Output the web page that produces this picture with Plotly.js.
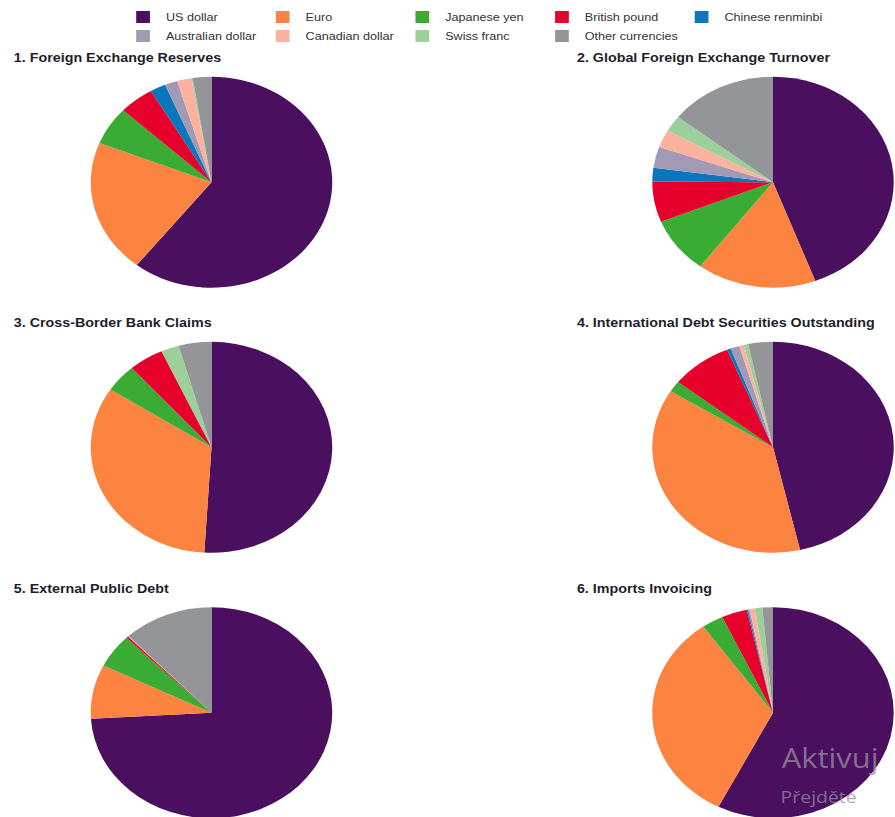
<!DOCTYPE html>
<html><head><meta charset="utf-8">
<script src="https://cdn.plot.ly/plotly-3.0.1.min.js"></script>
<style>
html,body{margin:0;padding:0;overflow:hidden;background:#fff;width:895px;height:817px}
#wrap{width:782px;height:840px;transform:scaleX(1.1445);transform-origin:0 0}
</style>
</head><body><div id="wrap"></div>
<script>
const currencies = ["US dollar","Euro","Japanese yen","British pound","Chinese renminbi","Australian dollar","Canadian dollar","Swiss franc","Other currencies"];
const colors = ["#4a0f5f","#fd8341","#3aab33","#e7002c","#0a77bd","#a29ab4","#fdb2a0","#9ccf99","#939598"];
const titles = ["1. Foreign Exchange Reserves","2. Global Foreign Exchange Turnover","3. Cross-Border Bank Claims","4. International Debt Securities Outstanding","5. External Public Debt","6. Imports Invoicing"];

const fxReserves     = [60.8, 20.5, 5.9, 4.7, 2.1, 1.7, 1.9, 0.2, 2.5];
const fxTurnover     = [44.3, 16.0, 8.6, 6.2, 2.1, 3.2, 2.7, 2.5, 14.4];
const bankClaims     = [51.0, 33.3, 4.3, 4.7, 0.0, 0.0, 0.0, 2.4, 4.4];
const debtSecurities = [46.4, 37.5, 1.7, 8.2, 0.5, 1.2, 0.6, 0.6, 3.3];
const publicDebt     = [74.4, 8.3, 5.2, 0.3, 0.0, 0.0, 0.1, 0.0, 12.1];
const importsInvoicing = [57.4, 32.7, 2.9, 3.4, 0.2, 0.2, 0.7, 1.0, 1.4];

const series = [fxReserves, fxTurnover, bankClaims, debtSecurities, publicDebt, importsInvoicing];

const W = 782, H = 840, R = 105.5;
const ML = 60;               // left margin, so the plot area width makes the legend wrap after 5 entries
const GW = W - ML;
const px = v => (v - ML) / GW;   // inner pixel -> paper x
const py = v => 1 - v / H;       // pixel from top -> paper y
const centersX = [184.8, 675.4];
const centersY = [182.2, 447.3, 712.7];

const traces = series.map((vals, i) => {
  const cx = centersX[i % 2], cy = centersY[Math.floor(i / 2)];
  return {
    type: 'pie',
    labels: currencies,
    values: vals,
    sort: false,
    direction: 'clockwise',
    rotation: 0,
    textinfo: 'none',
    hoverinfo: 'label+value',
    marker: {colors: colors, line: {width: 0}},
    domain: {x: [px(cx - R), px(cx + R)], y: [(H - cy - R) / H, (H - cy + R) / H]},
    showlegend: i === 0
  };
});

const titleX = [10, 502];
const titleY = [58, 323, 589];
const annotations = titles.map((t, i) => ({
  text: '<b>' + t + '</b>',
  xref: 'paper', yref: 'paper',
  x: px(titleX[i % 2]), y: py(titleY[Math.floor(i / 2)]),
  xanchor: 'left', yanchor: 'middle', showarrow: false,
  font: {family: 'Liberation Sans, Arial, sans-serif', size: 12.5, color: '#1f1d2b'}
}));
annotations.push({
  text: 'Aktivuj', xref: 'paper', yref: 'paper',
  x: px(681), y: py(757), xanchor: 'left', yanchor: 'middle', showarrow: false,
  font: {family: 'Open Sans, Noto Sans, sans-serif', size: 27, color: 'rgba(150,145,160,0.75)'}
});
annotations.push({
  text: 'Přejděte', xref: 'paper', yref: 'paper',
  x: px(680), y: py(796), xanchor: 'left', yanchor: 'middle', showarrow: false,
  font: {family: 'Open Sans, Noto Sans, sans-serif', size: 17, color: 'rgba(150,145,160,0.75)'}
});

const layout = {
  width: W, height: H,
  margin: {l: ML, r: 0, t: 0, b: 0, autoexpand: false},
  paper_bgcolor: '#fff',
  showlegend: true,
  legend: {
    orientation: 'h', x: px(105), y: py(2.5), xanchor: 'left', yanchor: 'top',
    entrywidth: 77, entrywidthmode: 'pixels', traceorder: 'normal',
    font: {family: 'Liberation Sans, Arial, sans-serif', size: 11, color: '#333'},
    tracegroupgap: 0, itemclick: false, itemdoubleclick: false
  },
  annotations: annotations
};

Plotly.newPlot('wrap', traces, layout, {displayModeBar: false, staticPlot: true}).then(gd => {
  // let the last legend column's label run past the fixed entry width instead of being clipped
  gd.querySelectorAll('.legend .scrollbox, .legend').forEach(el => el.removeAttribute('clip-path'));
});
</script>
</body></html>
